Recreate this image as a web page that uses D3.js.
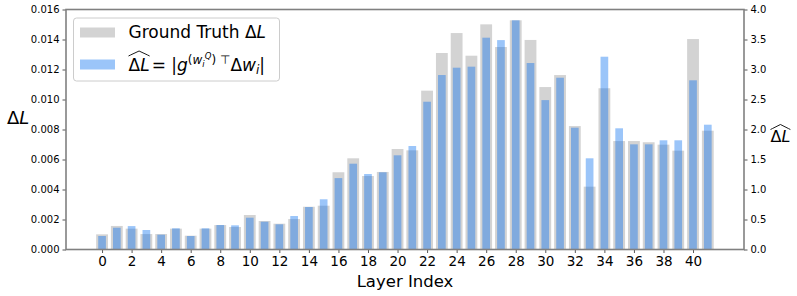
<!DOCTYPE html>
<html>
  <head>
    <meta charset="UTF-8" />
    <title></title>
    <style>
      body { margin: 0; background: #fff; }
      text { font-family: 'DejaVu Sans', sans-serif; fill: #000; }
    </style>
    <script src="https://d3js.org/d3.v7.min.js"></script>
  </head>
  <body>
    <svg id="viz" width="797" height="296"></svg>
    <script>
      const layers = [0, 1, 2, 3, 4, 5, 6, 7, 8, 9, 10, 11, 12, 13, 14, 15, 16, 17, 18, 19, 20,
        21, 22, 23, 24, 25, 26, 27, 28, 29, 30, 31, 32, 33, 34, 35, 36, 37, 38, 39, 40, 41];
      // left axis: ground truth delta L
      const groundTruth = [
        0.00101, 0.00157, 0.00139, 0.00103, 0.00103, 0.00139, 0.00092, 0.00139, 0.00163, 0.0015,
        0.0023, 0.0019, 0.00172, 0.00203, 0.00285, 0.00292, 0.00515, 0.00608, 0.0049, 0.00517,
        0.0067, 0.00661, 0.01059, 0.0131, 0.01443, 0.01292, 0.01501, 0.0135, 0.01528, 0.01397,
        0.01083, 0.01163, 0.00823, 0.00419, 0.01075, 0.00723, 0.00723, 0.00715, 0.00699, 0.00659,
        0.01403, 0.00792
      ];
      // right axis: estimated delta L
      const estimate = [
        0.225, 0.363, 0.39, 0.325, 0.247, 0.353, 0.225, 0.353, 0.408, 0.403,
        0.53, 0.463, 0.42, 0.558, 0.708, 0.837, 1.19, 1.43, 1.258, 1.287,
        1.57, 1.725, 2.463, 2.908, 3.03, 3.047, 3.53, 3.49, 3.82, 3.108,
        2.49, 2.863, 2.03, 1.52, 3.213, 2.02, 1.753, 1.753, 1.82, 1.82,
        2.82, 2.08
      ];
      const xTicks = [0, 2, 4, 6, 8, 10, 12, 14, 16, 18, 20, 22, 24, 26, 28, 30, 32, 34, 36, 38, 40];
      const leftTicks = [0, 0.002, 0.004, 0.006, 0.008, 0.01, 0.012, 0.014, 0.016];
      const rightTicks = [0, 0.5, 1, 1.5, 2, 2.5, 3, 3.5, 4];

      const W = 797, H = 296;
      const margin = { left: 66, right: 53, top: 9.5, bottom: 46.5 };
      const innerW = W - margin.left - margin.right;
      const innerH = H - margin.top - margin.bottom;
      const spine = '#808080';

      const svg = d3.select('#viz');
      const g = svg.append('g').attr('transform', `translate(${margin.left},${margin.top})`);

      const x = d3.scaleLinear().domain([-2.44, 43.45]).range([0, innerW]);
      const yL = d3.scaleLinear().domain([0, 0.016]).range([innerH, 0]);
      const yR = d3.scaleLinear().domain([0, 4]).range([innerH, 0]);
      const step = x(1) - x(0);

      // bars
      g.append('g').selectAll('rect')
        .data(layers)
        .join('rect')
        .attr('x', (d) => x(d) - step * 0.4)
        .attr('width', step * 0.8)
        .attr('y', (d, i) => yL(groundTruth[i]))
        .attr('height', (d, i) => innerH - yL(groundTruth[i]))
        .attr('fill', '#d3d3d3');

      g.append('g').selectAll('rect')
        .data(layers)
        .join('rect')
        .attr('x', (d) => x(d) - step * 0.26)
        .attr('width', step * 0.52)
        .attr('y', (d, i) => yR(estimate[i]))
        .attr('height', (d, i) => innerH - yR(estimate[i]))
        .attr('fill', 'rgb(5,110,240)')
        .attr('fill-opacity', 0.4);

      // axes
      const styleAxis = (sel, size) => {
        sel.select('.domain').remove();
        sel.selectAll('.tick line').attr('stroke', '#444').attr('stroke-width', 0.9);
        sel.selectAll('.tick text').attr('font-size', size).attr('fill', '#000')
          .attr('font-family', "'DejaVu Sans', sans-serif");
      };
      g.append('g')
        .attr('transform', `translate(0,${innerH})`)
        .call(d3.axisBottom(x).tickValues(xTicks).tickFormat(d3.format('d')).tickSize(3.5).tickPadding(3.5))
        .call((s) => styleAxis(s, 13.5));
      g.append('g')
        .call(d3.axisLeft(yL).tickValues(leftTicks).tickFormat(d3.format('.3f')).tickSize(3.5).tickPadding(3))
        .call((s) => styleAxis(s, 10));
      g.append('g')
        .attr('transform', `translate(${innerW},0)`)
        .call(d3.axisRight(yR).tickValues(rightTicks).tickFormat(d3.format('.1f')).tickSize(3.5).tickPadding(3))
        .call((s) => styleAxis(s, 10));

      // spines
      g.append('rect')
        .attr('width', innerW).attr('height', innerH)
        .attr('fill', 'none').attr('stroke', spine).attr('stroke-width', 1.6);

      // math-ish text helper: pieces of {t, it, fs, up}
      function mathText(parent, px, py, pieces, size) {
        const t = parent.append('text').attr('x', px).attr('y', py).attr('font-size', size);
        pieces.forEach((p) => {
          t.append('tspan')
            .attr('y', py - (p.up || 0))
            .attr('font-size', p.fs || size)
            .attr('font-style', p.it ? 'italic' : 'normal')
            .text(p.t);
        });
        return t;
      }
      function hat(parent, x0, x1, top, h) {
        const xm = (x0 + x1) / 2;
        parent.append('path')
          .attr('d', `M${x0},${top + h} L${x0 + 2},${top + h * 0.8} L${xm},${top} L${x1 - 2},${top + h * 0.8} L${x1},${top + h}`)
          .attr('fill', 'none').attr('stroke', '#000').attr('stroke-width', 0.9);
      }
      const dL = [{ t: 'Δ' }, { t: 'L', it: true }];

      // axis labels
      g.append('text')
        .attr('x', innerW / 2).attr('y', innerH + 37)
        .attr('text-anchor', 'middle').attr('font-size', 16.5)
        .text('Layer Index');
      mathText(svg, 7, 124, dL, 18);
      const rl = mathText(svg, 770.5, 141.5, dL, 16);
      const rw = rl.node().getComputedTextLength();
      hat(svg, 770.5, 770.5 + rw, 124.5, 5);

      // legend
      const fs = 17;
      const lg = svg.append('g');
      lg.append('rect')
        .attr('x', 73.5).attr('y', 18).attr('width', 206).attr('height', 63).attr('rx', 3)
        .attr('fill', '#fff').attr('fill-opacity', 0.8).attr('stroke', '#cccccc').attr('stroke-width', 1);
      lg.append('rect').attr('x', 80).attr('y', 27.5).attr('width', 35).attr('height', 10).attr('fill', '#d3d3d3');
      lg.append('rect').attr('x', 80).attr('y', 59.5).attr('width', 35).attr('height', 10)
        .attr('fill', 'rgb(5,110,240)').attr('fill-opacity', 0.4);
      mathText(lg, 128.5, 37.5, [{ t: 'Ground Truth ' }, { t: 'Δ' }, { t: 'L', it: true }], fs);
      const hatPart = mathText(lg, 128.5, 71, dL, fs);
      const hw = hatPart.node().getComputedTextLength();
      hat(lg, 128.5, 128.5 + hw, 51, 5);
      mathText(lg, 128.5 + hw + 2, 71, [
        { t: ' = |' },
        { t: 'g', it: true },
        { t: '(', fs: 12, up: 7.5 },
        { t: 'w', it: true, fs: 12, up: 7.5 },
        { t: 'i', it: true, fs: 8.5, up: 4.5 },
        { t: 'Q', it: true, fs: 8.5, up: 12.5 },
        { t: ')', fs: 12, up: 7.5 },
        { t: ' ⊤', fs: 12, up: 7.5 },
        { t: 'Δ' },
        { t: 'w', it: true },
        { t: 'i', it: true, fs: 12, up: -3 },
        { t: '|' }
      ], fs);
    </script>
  </body>
</html>
